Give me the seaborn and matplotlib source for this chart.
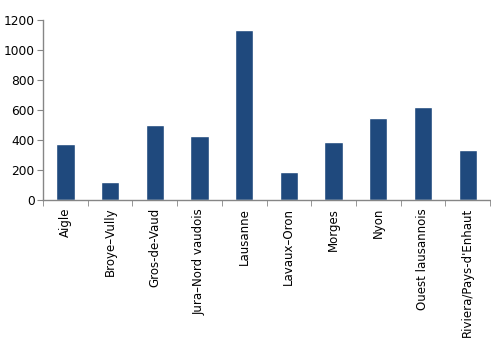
import matplotlib
matplotlib.use("Agg")
import matplotlib.pyplot as plt
import seaborn as sns
import numpy as np
import pandas as pd
from matplotlib.ticker import FixedLocator

categories = ["Aigle", "Broye–Vully", "Gros-de-Vaud", "Jura–Nord vaudois", "Lausanne",
              "Lavaux–Oron", "Morges", "Nyon", "Ouest lausannois", "Riviera/Pays-d'Enhaut"]
values = [372, 117, 499, 425, 1136, 184, 385, 546, 620, 332]
yticks = [0, 200, 400, 600, 800, 1000, 1200]

sns.set_style("white")
plt.rcParams['font.family'] = ['DejaVu Sans']

fig = plt.figure(figsize=(4.91, 3.40), dpi=100)
ax = fig.add_axes([0.0876, 0.4132, 0.9104, 0.5268])
df = pd.DataFrame({"cat": categories, "val": values})
sns.barplot(data=df, x="cat", y="val", color="#1F497D", width=0.41, ax=ax, saturation=1)

ax.set_xlim(-0.5, len(categories) - 0.5)
ax.set_ylim(0, 1200)
ax.set_yticks(yticks)
ax.set_xlabel("")
ax.set_ylabel("")
for s in ["top", "right"]:
    ax.spines[s].set_visible(False)
for s in ["left", "bottom"]:
    ax.spines[s].set_color("#868686")
    ax.spines[s].set_linewidth(1)
ax.tick_params(axis="y", length=4, color="#868686", labelsize=8.8, labelcolor="black", pad=2, direction="out", left=True)
ax.tick_params(axis="x", which="major", length=0, labelsize=8.5, labelcolor="black", pad=6, rotation=90)
ax.xaxis.set_minor_locator(FixedLocator(np.arange(-0.5, len(categories), 1.0)))
ax.tick_params(axis="x", which="minor", length=4, color="#868686", direction="out", bottom=True)
for lbl in ax.get_xticklabels():
    lbl.set_verticalalignment("top")
    lbl.set_horizontalalignment("center")

fig.savefig("out.png", dpi=100)
